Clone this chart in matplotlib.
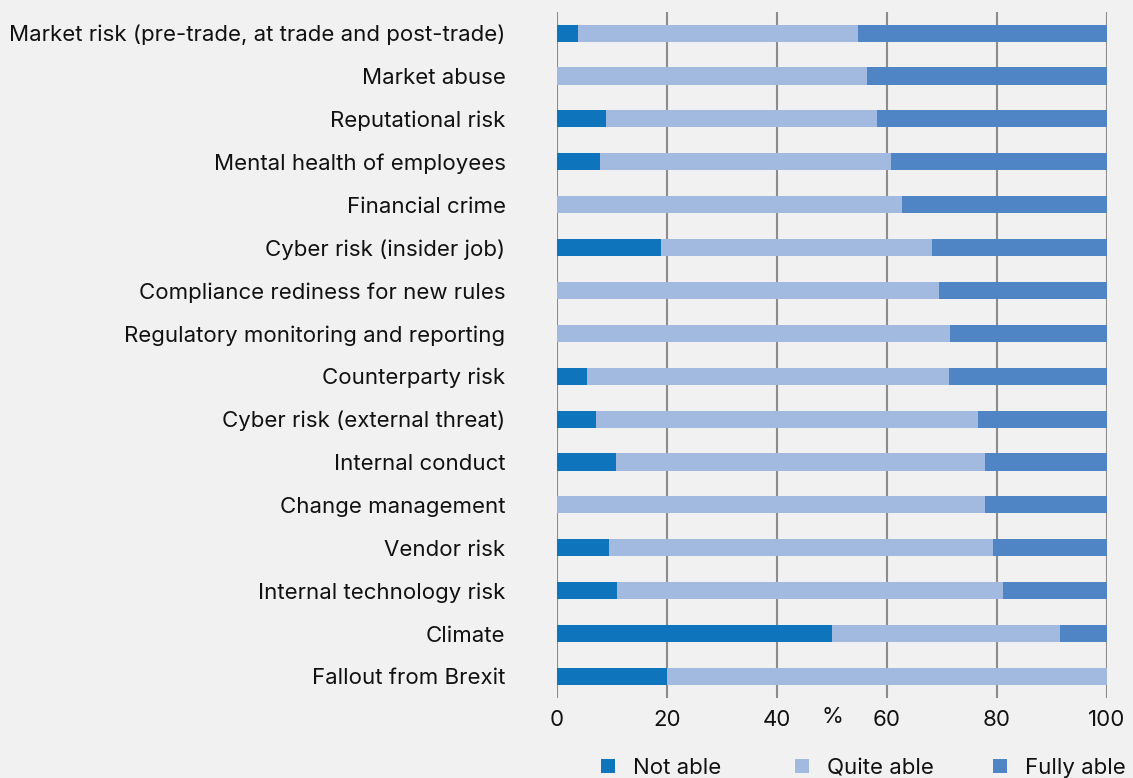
import matplotlib
matplotlib.use("Agg")
import matplotlib.pyplot as plt
from matplotlib.patches import Patch
import numpy as np

categories = [
    "Market risk (pre-trade, at trade and post-trade)",
    "Market abuse",
    "Reputational risk",
    "Mental health of employees",
    "Financial crime",
    "Cyber risk (insider job)",
    "Compliance rediness for new rules",
    "Regulatory monitoring and reporting",
    "Counterparty risk",
    "Cyber risk (external threat)",
    "Internal conduct",
    "Change management",
    "Vendor risk",
    "Internal technology risk",
    "Climate",
    "Fallout from Brexit",
]
not_able = [3.8, 0, 9.0, 7.9, 0, 19.0, 0, 0, 5.5, 7.1, 10.8, 0, 9.5, 11.0, 50.0, 20.0]
quite_able = [50.9, 56.4, 49.2, 52.8, 62.7, 49.2, 69.4, 71.4, 65.7, 69.4, 67.0, 77.8, 69.8, 70.0, 41.4, 80.0]
fully_able = [45.3, 43.6, 41.8, 39.3, 37.3, 31.8, 30.6, 28.6, 28.8, 23.5, 22.2, 22.2, 20.7, 19.0, 8.6, 0.0]
x_ticks = [0, 20, 40, 60, 80, 100]
series_names = ["Not able", "Quite able", "Fully able"]
colors = ["#0e74bb", "#a3bae0", "#5085c5"]

plt.rcParams["font.family"] = ["Inter", "DejaVu Sans"]
bg = "#f1f1f1"
txt = "#111111"
fs = 16

W, H = 1133, 778
fig = plt.figure(figsize=(W / 100, H / 100), dpi=100, facecolor=bg)
ax = fig.add_axes([0.4916, 0.103, 0.4855, 0.882], facecolor=bg)

y = np.arange(len(categories))
left = np.zeros(len(categories))
for vals, col, name in zip([not_able, quite_able, fully_able], colors, series_names):
    ax.barh(y, vals, left=left, height=0.4, color=col, label=name, zorder=3)
    left += np.array(vals)

ax.set_ylim(len(categories) - 0.5, -0.5)
ax.set_xlim(0, 100)
ax.set_yticks(y)
ax.set_yticklabels(categories, fontsize=fs, color=txt)
ax.set_xticks(x_ticks)
ax.set_xticklabels([str(t) for t in x_ticks], fontsize=fs, color=txt)
ax.tick_params(axis="x", length=0, pad=9)
ax.tick_params(axis="y", length=0, pad=37)
ax.grid(axis="x", color="#8c8c8c", linewidth=1.5, zorder=0)
for s in ax.spines.values():
    s.set_visible(False)
ax.text(50, -0.0135, "%", transform=ax.get_xaxis_transform(), ha="center", va="top",
        fontsize=fs, color=txt)

# one legend entry per key, laid out along the bottom edge
key_left_px = [601, 795, 993]
for x_px, col, name in zip(key_left_px, colors, series_names):
    fig.legend([Patch(facecolor=col, edgecolor="none")], [name],
               loc="center left", bbox_to_anchor=(x_px / W, 1 - 768 / H),
               frameon=False, fontsize=fs, handlelength=0.63, handleheight=0.63,
               handletextpad=0.8, borderpad=0.0, borderaxespad=0.0, labelcolor=txt)

fig.savefig("out.png", dpi=100, facecolor=bg)
